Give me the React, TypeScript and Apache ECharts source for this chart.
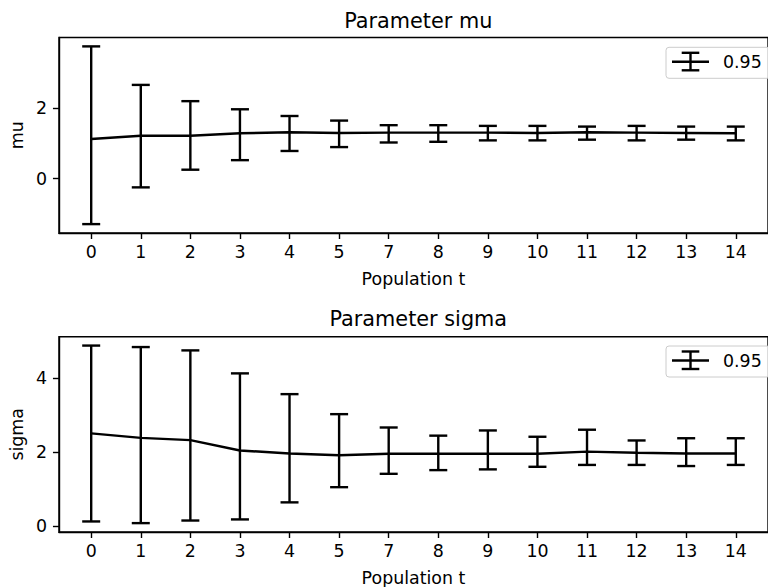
import React, { useEffect, useRef } from "react";
import * as echarts from "echarts";

// Population labels (generation 6 is absent from the run)
const categories = ["0", "1", "2", "3", "4", "5", "7", "8", "9", "10", "11", "12", "13", "14"];

// Parameter mu: point estimate and 95% interval bounds per population
const muMean = [1.12, 1.21, 1.21, 1.28, 1.31, 1.29, 1.3, 1.3, 1.3, 1.29, 1.31, 1.3, 1.29, 1.28];
const muLow = [-1.29, -0.25, 0.25, 0.52, 0.78, 0.89, 1.02, 1.04, 1.08, 1.08, 1.1, 1.08, 1.1, 1.08];
const muHigh = [3.74, 2.65, 2.19, 1.96, 1.77, 1.64, 1.51, 1.51, 1.49, 1.49, 1.47, 1.49, 1.47, 1.47];

// Parameter sigma: point estimate and 95% interval bounds per population
const sigmaMean = [2.51, 2.39, 2.33, 2.05, 1.97, 1.92, 1.96, 1.96, 1.96, 1.96, 2.02, 1.99, 1.97, 1.97];
const sigmaLow = [0.135, 0.09, 0.16, 0.19, 0.65, 1.06, 1.42, 1.52, 1.54, 1.61, 1.66, 1.66, 1.63, 1.66];
const sigmaHigh = [4.88, 4.84, 4.75, 4.13, 3.57, 3.03, 2.67, 2.45, 2.59, 2.42, 2.61, 2.32, 2.38, 2.38];

const muTicks = [0, 2];
const sigmaTicks = [0, 2, 4];
const legendLabel = "0.95";

const FONT = "DejaVu Sans";
const BLACK = "#000000";
const TICK_FONT = 17.4;
const TITLE_FONT = 20.8;
const LW = 2.4;

// 5% padding on each side of the data range
function padRange(lo: number[], hi: number[]) {
  const a = Math.min(...lo);
  const b = Math.max(...hi);
  const pad = (b - a) * 0.05;
  return [a - pad, b + pad];
}

function errorBarRender(params: any, api: any) {
  const x = api.value(0);
  const pLo = api.coord([x, api.value(1)]);
  const pHi = api.coord([x, api.value(2)]);
  const cap = 9;
  const style = { stroke: BLACK, lineWidth: LW };
  return {
    type: "group",
    children: [
      { type: "line", shape: { x1: pLo[0], y1: pLo[1], x2: pHi[0], y2: pHi[1] }, style },
      { type: "line", shape: { x1: pLo[0] - cap, y1: pLo[1], x2: pLo[0] + cap, y2: pLo[1] }, style },
      { type: "line", shape: { x1: pHi[0] - cap, y1: pHi[1], x2: pHi[0] + cap, y2: pHi[1] }, style },
    ],
  };
}

function legendBox(top: number) {
  const cy = top + 14.5;
  const lineStyle = { stroke: BLACK, lineWidth: LW };
  return {
    type: "group",
    children: [
      {
        type: "rect",
        shape: { x: 666, y: top, width: 104, height: 31, r: 3 },
        style: { fill: "rgba(255,255,255,0.8)", stroke: "#cccccc", lineWidth: 1 },
      },
      { type: "line", shape: { x1: 672, y1: cy, x2: 709, y2: cy }, style: lineStyle },
      { type: "line", shape: { x1: 690.5, y1: cy - 9, x2: 690.5, y2: cy + 8.5 }, style: lineStyle },
      { type: "line", shape: { x1: 681.7, y1: cy - 9, x2: 699.3, y2: cy - 9 }, style: lineStyle },
      { type: "line", shape: { x1: 681.7, y1: cy + 8.5, x2: 699.3, y2: cy + 8.5 }, style: lineStyle },
      {
        type: "text",
        style: {
          x: 723,
          y: cy,
          text: legendLabel,
          fontFamily: FONT,
          fontSize: TICK_FONT,
          fill: BLACK,
          verticalAlign: "middle",
          textAlign: "left",
        },
      },
    ],
  };
}

export default function App() {
  const ref = useRef<HTMLDivElement>(null);

  useEffect(() => {
    if (!ref.current) return;
    const chart = echarts.init(ref.current, undefined, { renderer: "svg" });

    const idx = categories.map((_, i) => i);
    const xMin = -0.05 * (categories.length - 1);
    const xMax = categories.length - 1 + 0.05 * (categories.length - 1);
    const muRange = padRange(muLow, muHigh);
    const sigmaRange = padRange(sigmaLow, sigmaHigh);

    const gridLeft = 58.6;
    const gridWidth = 719.4;

    const xAxisBase = (gridIndex: number) => ({
      type: "value",
      gridIndex,
      min: xMin,
      max: xMax,
      name: "Population t",
      nameLocation: "middle",
      nameGap: 37,
      nameTextStyle: { fontFamily: FONT, fontSize: TICK_FONT, color: BLACK },
      splitLine: { show: false },
      axisLine: { show: true, onZero: false, lineStyle: { color: BLACK, width: 1.4 } },
      axisTick: { show: true, length: 6, lineStyle: { color: BLACK, width: 1.4 }, customValues: idx },
      axisLabel: {
        fontFamily: FONT,
        fontSize: TICK_FONT,
        color: BLACK,
        margin: 10,
        customValues: idx,
        formatter: (v: number) => categories[Math.round(v)] ?? "",
      },
    });

    const yAxisBase = (gridIndex: number, name: string, range: number[], ticks: number[]) => ({
      type: "value",
      gridIndex,
      min: range[0],
      max: range[1],
      name,
      nameLocation: "middle",
      nameGap: 32,
      nameRotate: 90,
      nameTextStyle: { fontFamily: FONT, fontSize: TICK_FONT, color: BLACK },
      splitLine: { show: false },
      axisLine: { show: true, onZero: false, lineStyle: { color: BLACK, width: 1.4 } },
      axisTick: { show: true, length: 6, lineStyle: { color: BLACK, width: 1.4 }, customValues: ticks },
      axisLabel: {
        fontFamily: FONT,
        fontSize: TICK_FONT,
        color: BLACK,
        margin: 12,
        customValues: ticks,
        formatter: (v: number) => String(v),
      },
    });

    const lineSeries = (axisIndex: number, values: number[]) => ({
      type: "line",
      xAxisIndex: axisIndex,
      yAxisIndex: axisIndex,
      data: values.map((v, i) => [i, v]),
      symbol: "none",
      lineStyle: { color: BLACK, width: LW },
      z: 3,
    });

    const barSeries = (axisIndex: number, lo: number[], hi: number[]) => ({
      type: "custom",
      xAxisIndex: axisIndex,
      yAxisIndex: axisIndex,
      data: lo.map((l, i) => [i, l, hi[i]]),
      encode: { x: 0, y: [1, 2] },
      renderItem: errorBarRender,
      z: 2,
    });

    chart.setOption({
      animation: false,
      backgroundColor: "#ffffff",
      textStyle: { fontFamily: FONT },
      grid: [
        {
          left: gridLeft,
          width: gridWidth,
          top: 37.5,
          height: 195.5,
          show: true,
          borderColor: BLACK,
          borderWidth: 1.4,
          backgroundColor: "transparent",
        },
        {
          left: gridLeft,
          width: gridWidth,
          top: 336.7,
          height: 195.6,
          show: true,
          borderColor: BLACK,
          borderWidth: 1.4,
          backgroundColor: "transparent",
        },
      ],
      xAxis: [xAxisBase(0), xAxisBase(1)],
      yAxis: [yAxisBase(0, "mu", muRange, muTicks), yAxisBase(1, "sigma", sigmaRange, sigmaTicks)],
      series: [
        barSeries(0, muLow, muHigh),
        lineSeries(0, muMean),
        barSeries(1, sigmaLow, sigmaHigh),
        lineSeries(1, sigmaMean),
      ],
      graphic: [
        {
          type: "text",
          style: {
            x: gridLeft + gridWidth / 2,
            y: 21,
            text: "Parameter mu",
            fontFamily: FONT,
            fontSize: TITLE_FONT,
            fill: BLACK,
            textAlign: "center",
            verticalAlign: "middle",
          },
        },
        {
          type: "text",
          style: {
            x: gridLeft + gridWidth / 2,
            y: 319,
            text: "Parameter sigma",
            fontFamily: FONT,
            fontSize: TITLE_FONT,
            fill: BLACK,
            textAlign: "center",
            verticalAlign: "middle",
          },
        },
        legendBox(47.3),
        legendBox(346),
      ],
    });

    return () => chart.dispose();
  }, []);

  return (
    <div
      ref={ref}
      style={{ position: "fixed", left: 0, top: 0, width: 768, height: 587, background: "#fff" }}
    />
  );
}
